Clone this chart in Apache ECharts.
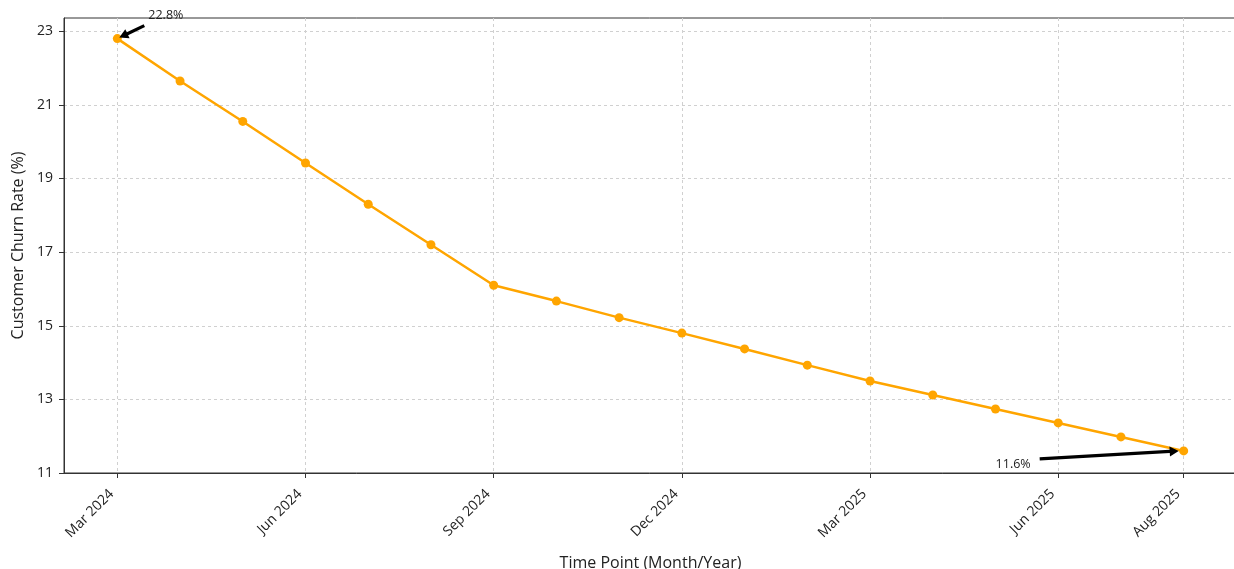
<!DOCTYPE html>
<html>
<head>
<meta charset="utf-8">
<script src="https://cdn.jsdelivr.net/npm/echarts@6/dist/echarts.min.js"></script>
<style>
html,body{margin:0;padding:0;background:#fff;}
#chart{width:1234px;height:569px;}
</style>
</head>
<body>
<div id="chart"></div>
<script>
// ---- data ----
var months = ['Mar 2024','Apr 2024','May 2024','Jun 2024','Jul 2024','Aug 2024','Sep 2024','Oct 2024','Nov 2024','Dec 2024',
              'Jan 2025','Feb 2025','Mar 2025','Apr 2025','May 2025','Jun 2025','Jul 2025','Aug 2025'];
var churnRate = [22.8, 21.65, 20.55, 19.42, 18.3, 17.2, 16.1, 15.67, 15.22, 14.8, 14.37, 13.93, 13.5, 13.12, 12.74, 12.36, 11.98, 11.6];
var xTickLabels = ['Mar 2024','Jun 2024','Sep 2024','Dec 2024','Mar 2025','Jun 2025','Aug 2025'];
var yTickValues = [11, 13, 15, 17, 19, 21, 23];

var FONT = '"Open Sans", Roboto, sans-serif';
var seriesData = churnRate.map(function (v, i) { return [i, v]; });
var xTickIdx = xTickLabels.map(function (l) { return months.indexOf(l); });

var chart = echarts.init(document.getElementById('chart'), null, {renderer: 'canvas'});
var option = {
  animation: false,
  backgroundColor: '#ffffff',
  grid: {left: 64, right: -3, top: 18, bottom: 96, show: true, borderColor: '#333', borderWidth: 1, outerBoundsMode: 'none', containLabel: false},
  xAxis: {
    type: 'value',
    min: -0.85, max: 17.85,
    name: 'Time Point (Month/Year)',
    nameLocation: 'middle', nameGap: 82,
    nameTextStyle: {fontFamily: FONT, fontSize: 16, color: '#222'},
    axisLine: {show: true, onZero: false, lineStyle: {color: '#333', width: 1}},
    axisTick: {show: true, inside: false, length: 5, customValues: xTickIdx, lineStyle: {color: '#333'}},
    axisLabel: {
      customValues: xTickIdx, rotate: 45, margin: 13, padding: [0, 8, 0, 0],
      fontFamily: FONT, fontSize: 14, color: '#222',
      formatter: function (v) { return months[Math.round(v)]; }
    },
    splitLine: {show: true, lineStyle: {color: '#d0d0d0', type: [3, 3], width: 1}}
  },
  yAxis: {
    type: 'value',
    min: 11, max: 23.36,
    name: 'Customer Churn Rate (%)',
    nameLocation: 'middle', nameGap: 36,
    nameTextStyle: {fontFamily: FONT, fontSize: 16, color: '#222'},
    axisLine: {show: true, onZero: false, lineStyle: {color: '#333', width: 1}},
    axisTick: {show: true, inside: false, length: 5, customValues: yTickValues, lineStyle: {color: '#333'}},
    axisLabel: {customValues: yTickValues, margin: 11, fontFamily: FONT, fontSize: 14, color: '#222'},
    splitLine: {show: true, lineStyle: {color: '#d0d0d0', type: [3, 3], width: 1}}
  },
  series: [{
    type: 'line',
    data: seriesData,
    symbol: 'circle',
    symbolSize: 9,
    lineStyle: {color: '#FFA500', width: 2.5},
    itemStyle: {color: '#FFA500'},
    z: 3
  }]
};
chart.setOption(option);

// ---- annotations (offsets in pixels from the annotated point) ----
function arrowShape(tail, tip) {
  var dx = tip[0] - tail[0], dy = tip[1] - tail[1];
  var len = Math.sqrt(dx * dx + dy * dy);
  var ux = dx / len, uy = dy / len, nx = -uy, ny = ux;
  var hw = 1.6, headW = 5, headL = 9;
  var bx = tip[0] - ux * headL, by = tip[1] - uy * headL;
  return [
    [tail[0] + nx * hw, tail[1] + ny * hw],
    [bx + nx * hw, by + ny * hw],
    [bx + nx * headW, by + ny * headW],
    [tip[0], tip[1]],
    [bx - nx * headW, by - ny * headW],
    [bx - nx * hw, by - ny * hw],
    [tail[0] - nx * hw, tail[1] - ny * hw]
  ];
}
var firstIdx = 0, lastIdx = churnRate.length - 1;
var p1 = chart.convertToPixel({gridIndex: 0}, [firstIdx, churnRate[firstIdx]]);
var p2 = chart.convertToPixel({gridIndex: 0}, [lastIdx, churnRate[lastIdx]]);
chart.setOption({
  graphic: [
    {type: 'polygon', z: 10, shape: {points: arrowShape([p1[0] + 27, p1[1] - 13], [p1[0] + 2, p1[1] - 1])}, style: {fill: '#000'}},
    {type: 'text', z: 10, x: p1[0] + 31, y: p1[1] - 23, style: {text: churnRate[firstIdx].toFixed(1) + '%', font: '12.5px ' + FONT, fill: '#222', verticalAlign: 'middle', align: 'left'}},
    {type: 'polygon', z: 10, shape: {points: arrowShape([p2[0] - 144, p2[1] + 8], [p2[0] - 5, p2[1]])}, style: {fill: '#000'}},
    {type: 'text', z: 10, x: p2[0] - 153, y: p2[1] + 14, style: {text: churnRate[lastIdx].toFixed(1) + '%', font: '12.5px ' + FONT, fill: '#222', verticalAlign: 'middle', align: 'right'}}
  ]
});
</script>
</body>
</html>
